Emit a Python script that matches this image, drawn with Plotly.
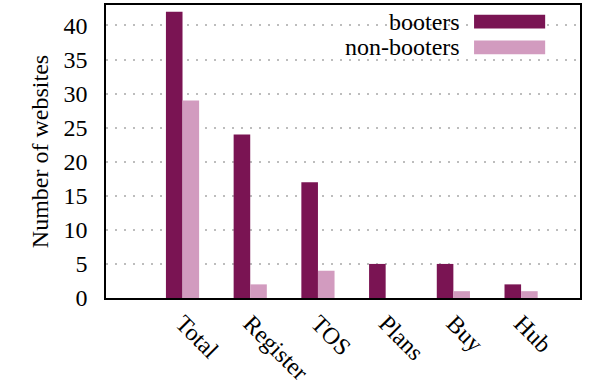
import plotly.graph_objects as go

categories = ["Total", "Register", "TOS", "Plans", "Buy", "Hub"]
booters = [42, 24, 17, 5, 5, 2]
non_booters = [29, 2, 4, 0, 1, 1]
series_names = ["booters", "non-booters"]
colors = ["#7a1453", "#d29bbf"]

FONT = "Liberation Serif"
FS = 24

fig = go.Figure()
fig.add_trace(go.Bar(x=categories, y=booters, name=series_names[0],
                     marker=dict(color=colors[0], line=dict(width=0))))
fig.add_trace(go.Bar(x=categories, y=non_booters, name=series_names[1],
                     marker=dict(color=colors[1], line=dict(width=0))))

# manual legend (text right-aligned, swatch to the right) like gnuplot
legend_y = [0.943, 0.855]
for name, col, yy in zip(series_names, colors, legend_y):
    fig.add_annotation(xref="paper", yref="paper", x=0.751, y=yy, text=name,
                       showarrow=False, xanchor="right", yanchor="middle",
                       font=dict(family=FONT, size=FS, color="black"))
    fig.add_shape(type="rect", xref="paper", yref="paper",
                  x0=0.7765, x1=0.9265, y0=yy - 0.0235, y1=yy + 0.0235,
                  fillcolor=col, line=dict(width=0))

fig.update_layout(
    width=590, height=388,
    margin=dict(l=106, r=10, t=3, b=88),
    paper_bgcolor="white", plot_bgcolor="white",
    barmode="group", bargap=0.51, bargroupgap=0,
    showlegend=False,
    font=dict(family=FONT, size=FS, color="black"),
    xaxis=dict(range=[-1.13, 5.87], tickangle=45, showgrid=False,
               showline=True, linecolor="black", linewidth=1.6, mirror=True,
               ticks="", tickfont=dict(family=FONT, size=FS)),
    yaxis=dict(range=[0, 43], tickvals=[0, 5, 10, 15, 20, 25, 30, 35, 40],
               showgrid=True, gridcolor="#bdbdbd", griddash="2px,7px", gridwidth=1.5,
               showline=True, linecolor="black", linewidth=1.6, mirror=True,
               zeroline=False, ticks="outside", ticklen=12,
               tickcolor="rgba(0,0,0,0)",
               tickfont=dict(family=FONT, size=FS),
               title=dict(text="Number of websites", standoff=8,
                          font=dict(family=FONT, size=FS))),
)

fig.write_html("out.html")
